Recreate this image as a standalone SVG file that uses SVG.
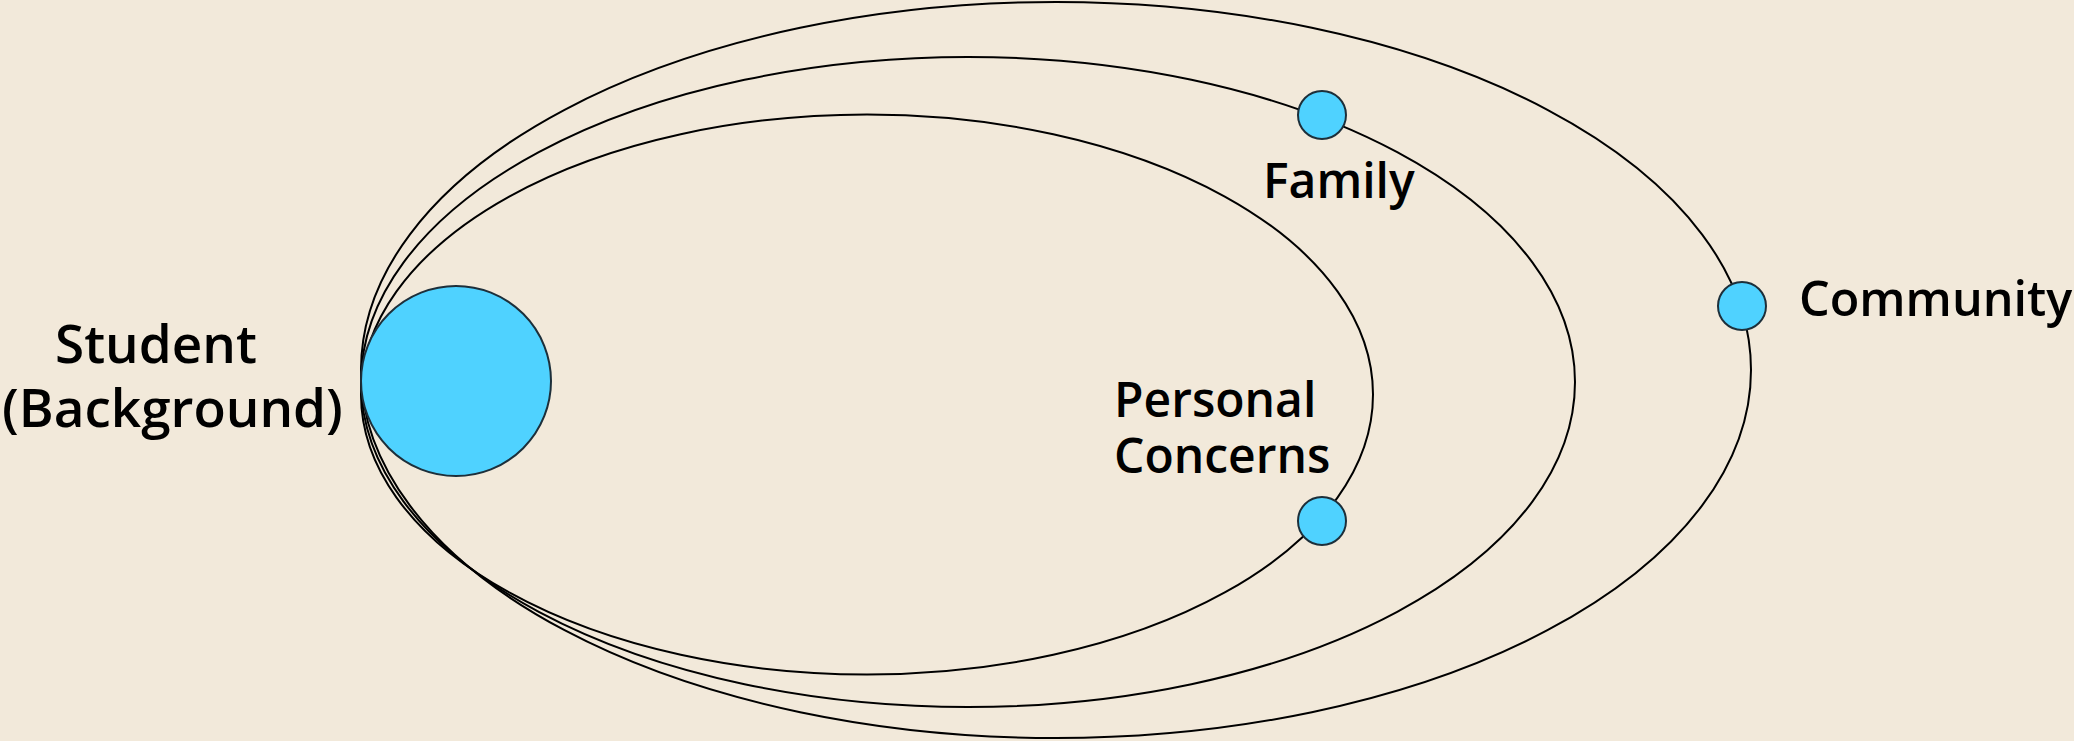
<svg xmlns="http://www.w3.org/2000/svg" width="2074" height="741" viewBox="0 0 2074 741">
<style>
.orbit{fill:none;stroke:#000;stroke-width:2}
.planet{fill:#4FD2FF;stroke:#1d2f3a;stroke-width:2}
.lbl{font-family:"Open Sans","Noto Sans",sans-serif;font-weight:600;fill:#000}
</style>
<rect width="2074" height="741" fill="#F2E9DA"/>
<g id="connectors">
<ellipse class="orbit" cx="867" cy="394.5" rx="506" ry="280"/>
<ellipse class="orbit" cx="968" cy="382" rx="607" ry="325"/>
<ellipse class="orbit" cx="1056" cy="370" rx="695" ry="368"/>
</g>
<g id="student">
<circle class="planet" cx="456" cy="381" r="95"/>
<text class="lbl" font-size="53" x="55" y="363">Student</text>
<text class="lbl" font-size="53" x="2" y="427">(Background)</text>
</g>
<g id="family">
<circle class="planet" cx="1322" cy="115" r="24"/>
<text class="lbl" font-size="48" x="1263" y="198">Family</text>
</g>
<g id="personal">
<circle class="planet" cx="1322" cy="521" r="24"/>
<text class="lbl" font-size="48" x="1114" y="417">Personal</text>
<text class="lbl" font-size="48" x="1114" y="473">Concerns</text>
</g>
<g id="community">
<circle class="planet" cx="1742" cy="306" r="24"/>
<text class="lbl" font-size="48.5" x="1799" y="316">Community</text>
</g>
</svg>
